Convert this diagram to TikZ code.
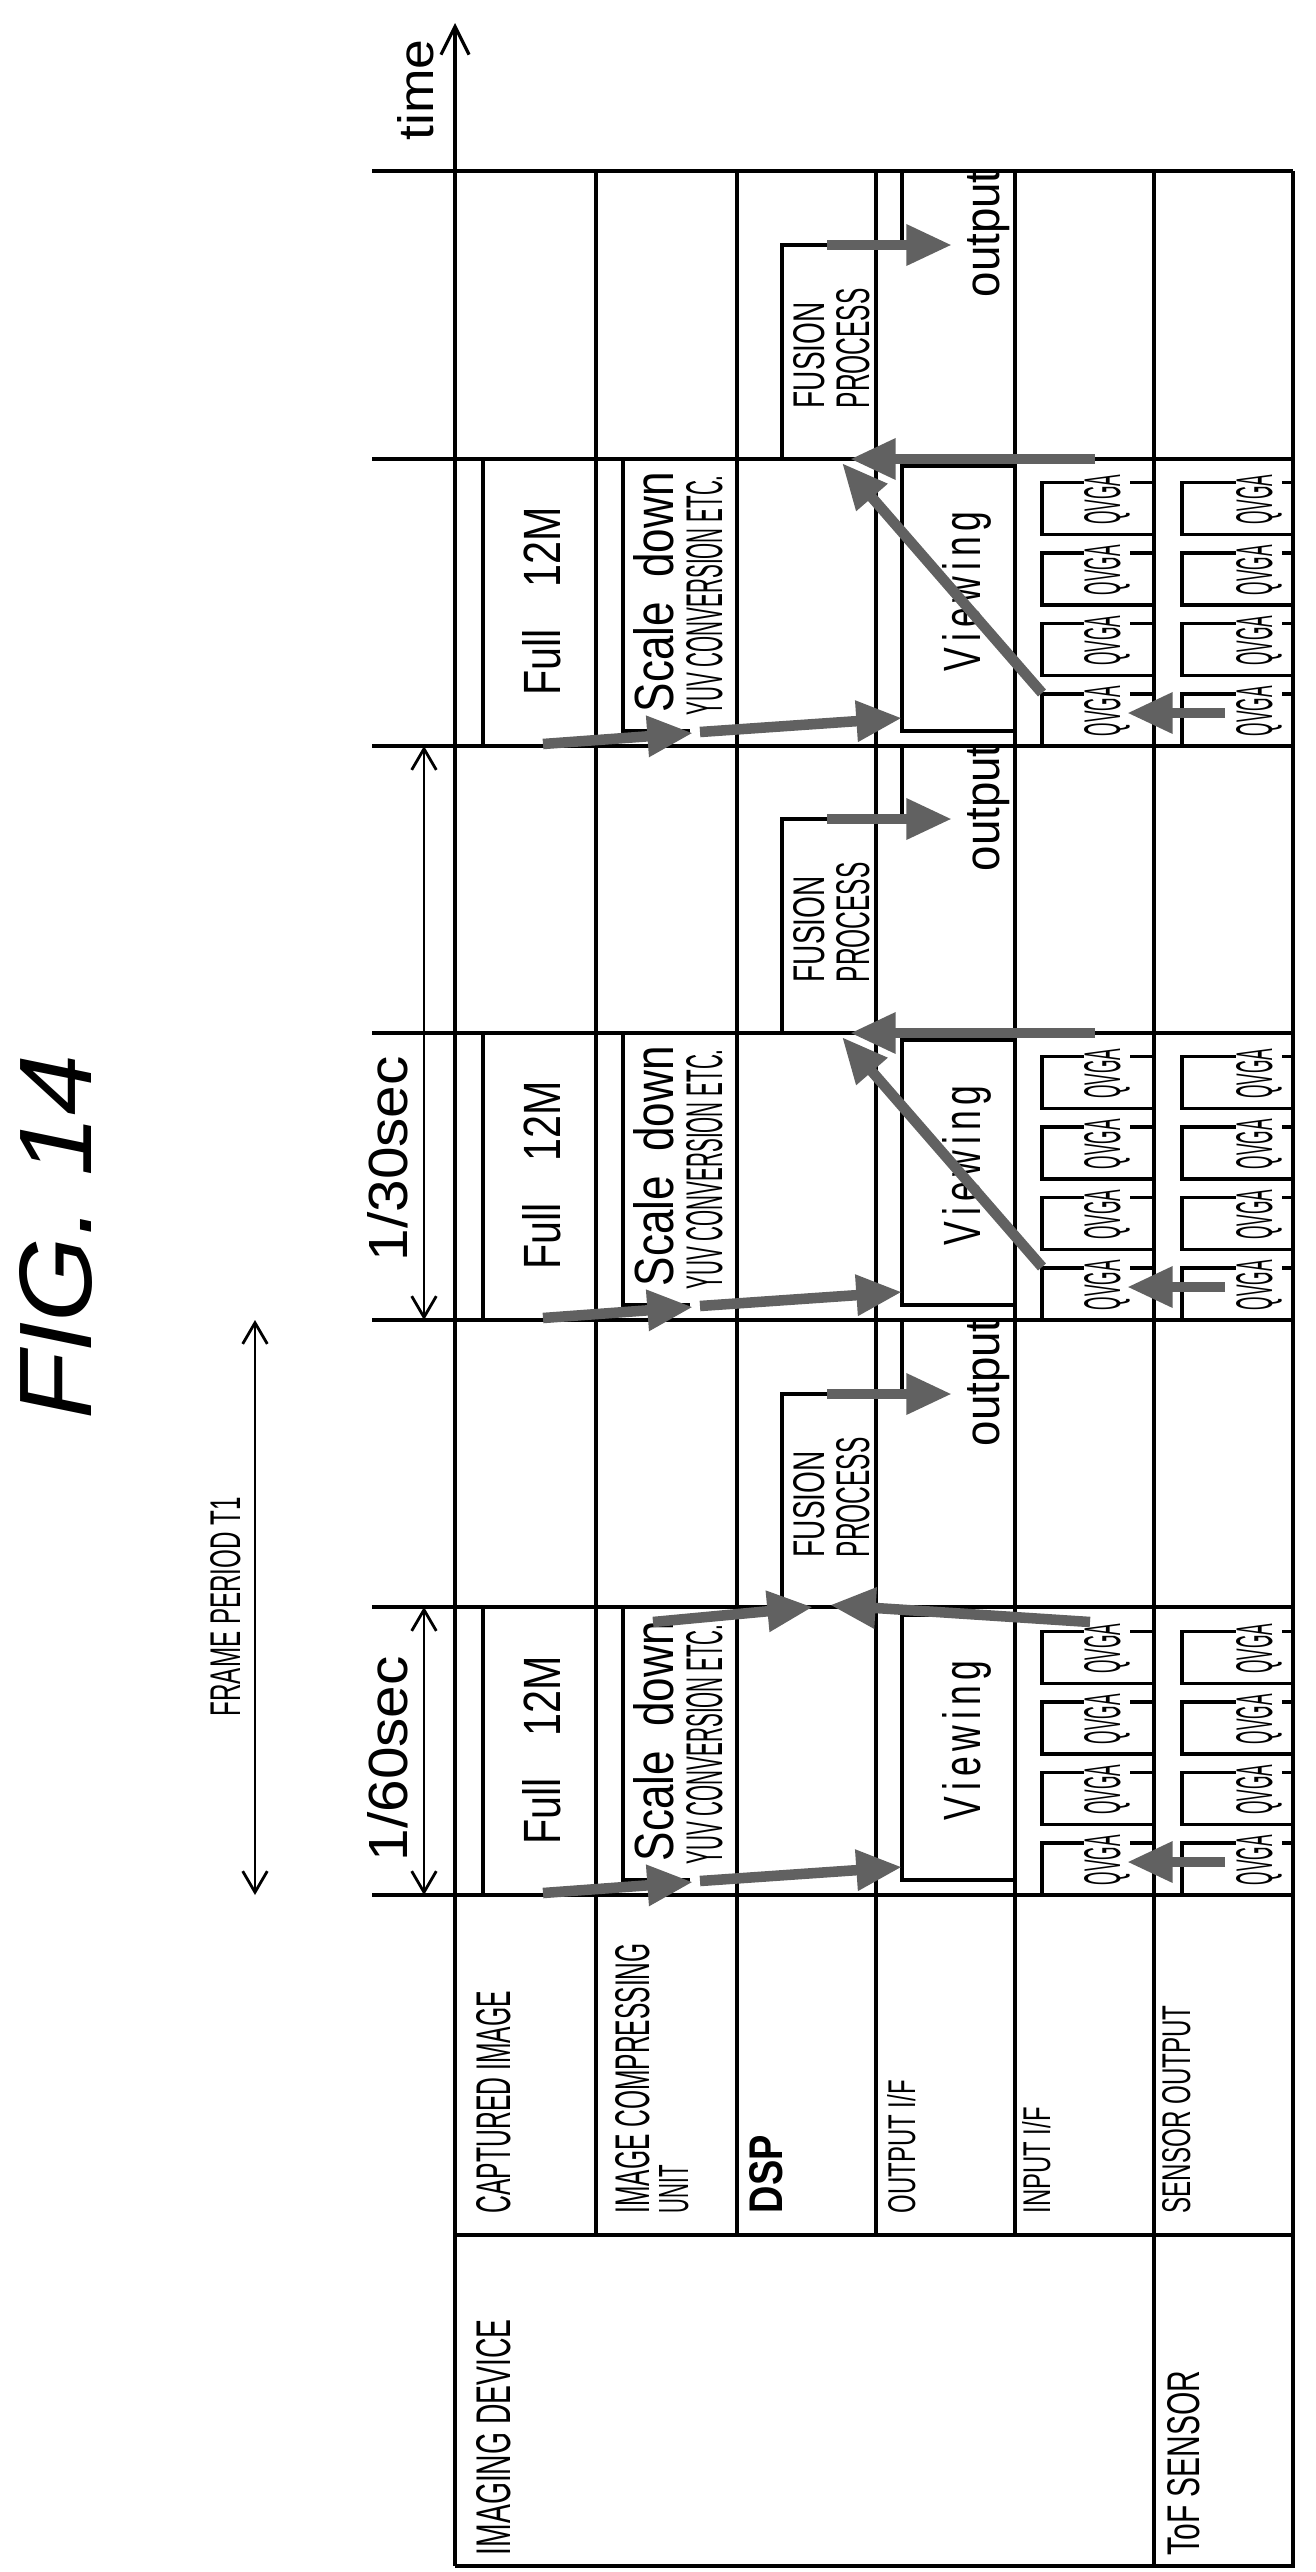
\documentclass[tikz,border=0pt]{standalone}
\usepackage{fontspec}
\setmainfont{Liberation Sans}
\usepackage{graphicx}
\usetikzlibrary{arrows.meta}
\newlength\pxl \setlength\pxl{0.1mm}
\newcommand\T[3]{\resizebox{#1\pxl}{#2\pxl}{#3}}
\begin{document}
\begin{tikzpicture}[x=0.1mm,y=-0.1mm,
 ln/.style={line width=0.9pt},
 ga/.style={line width=3pt, black!62, -{Triangle[length=13pt,width=11pt]}},
 dim/.style={line width=0.8pt,{Straight Barb[length=6pt,width=7pt]}-{Straight Barb[length=6pt,width=7pt]}},
 lab/.style={rotate=90, anchor=base west, inner sep=0pt},
 q/.style={lab, fill=white, inner xsep=2pt}]
\useasboundingbox (0,0) rectangle (1316,2572);
% table
\draw[ln,-{Straight Barb[length=8pt,width=8pt]}] (455,2566) coordinate (t0) -- (455,23) coordinate (t1);
\draw[ln] (455,2566) -- (1293,2566) -- (1293,171);
\draw[ln] (455,2235) -- (1293,2235);
\foreach \x in {596,737,876,1015} \draw[ln] (\x,171) -- (\x,2235);
\draw[ln] (1154,171) -- (1154,2566);
\foreach \y in {171,459,746,1033,1320,1607,1895} \draw[ln] (372,\y) -- (1293,\y);
% labels
\node[lab] (l1) at (510,2214) {\T{222}{34}{CAPTURED IMAGE}};
\node[lab] (l2) at (649,2214) {\T{270}{34}{IMAGE COMPRESSING}};
\node[lab] (l2b) at (688,2214) {\T{48}{29}{UNIT}};
\node[lab] (l3) at (782,2214) {\T{78}{33}{\bfseries DSP}};
\node[lab] (l4) at (915,2214) {\T{133}{28}{OUTPUT I/F}};
\node[lab] (l5) at (1050,2214) {\T{106}{28}{INPUT I/F}};
\node[lab] (l6) at (1190,2214) {\T{208}{28}{SENSOR OUTPUT}};
\node[lab] (l7) at (510,2556) {\T{236}{34}{IMAGING DEVICE}};
\node[lab] (l8) at (1199,2556) {\T{185}{32}{ToF SENSOR}};
% headers
\node[lab] (fig) at (92,1420) {\T{365}{72}{\itshape FIG. 14}};
\node[lab] (fp) at (240,1717) {\T{219}{30}{FRAME PERIOD T1}};
\draw[dim] (255,1895) -- (255,1320);
\draw[dim] (424,1895) -- (424,1607);
\draw[dim] (424,1320) -- (424,746);
\node[lab] (s60) at (407,1862) {\T{205}{40}{1/60sec}};
\node[lab] (s30) at (407,1262) {\T{205}{40}{1/30sec}};
\node[lab] (tm) at (433,141) {\T{101}{36}{time}};
% frames
\foreach \yb/\i in {1895/1,1320/2,746/3}{
 \pgfmathsetmacro\yt{\yb-288}
 \draw[ln] (483,\yb) -- (483,\yt);
 \draw[ln] (623,\yt) -- (623,\yb-15) -- (690,\yb-15);
 \draw[ln] (1015,\yt+8) -- (902,\yt+8) -- (902,\yb-15) -- (1015,\yb-15);
 \node[lab] (full\i) at (560,\yb-50) {\T{188}{38}{Full\quad 12M}};
 \node[lab] (sc\i) at (673,\yb-33) {\T{240}{40}{Scale\ \ down}};
 \node[lab] (yuv\i) at (722,\yb-30) {\T{240}{36}{YUV CONVERSION ETC.}};
 \node[lab] (vw\i) at (980,\yb-74) {\T{160}{38}{V\,i\,e\,w\,i\,n\,g}};
 \foreach \k in {0,1,2,3}{
  \pgfmathsetmacro\s{\yb-70.5*\k}
  \draw[ln] (1042,\s) rectangle (1154,\s-52);
  \draw[ln] (1182,\s) rectangle (1293,\s-52);
  \node[q] (qi\i\k) at (1120,\s-2) {\T{50}{36}{QVGA}};
  \node[q] (qs\i\k) at (1272,\s-2) {\T{50}{36}{QVGA}};
 }
 \draw[ga] (1225,\yb-33) -- (1127,\yb-33);
 \draw[ga] (543,\yb-2) -- (693,\yb-13);
 \draw[ga] (700,\yb-14) -- (902,\yb-28);
 % fusion frame
 \pgfmathsetmacro\yf{\yb-288}
 \draw[ln] (782,\yf) -- (782,\yf-213) -- (876,\yf-213);
 \draw[ln] (902,\yf-288) -- (902,\yf-213);
 \draw[ga] (827,\yf-213) -- (952,\yf-213);
 \node[lab] (fu\i) at (824,\yf-49) {\T{106}{31}{FUSION}};
 \node[lab] (pr\i) at (869,\yf-49) {\T{120}{33}{PROCESS}};
 \node[lab] (out\i) at (999,\yf-160) {\T{127}{32}{output}};
}
% inputs of fusion
\draw[ga] (653,1622) -- (813,1607);
\draw[ga] (1090,1622) -- (830,1605);
\foreach \yb in {1320,746}{
 \draw[ga] (1042,\yb-53) -- (842,\yb-283);
 \draw[ga] (1095,\yb-287) -- (850,\yb-287);
}
\end{tikzpicture}
\end{document}
